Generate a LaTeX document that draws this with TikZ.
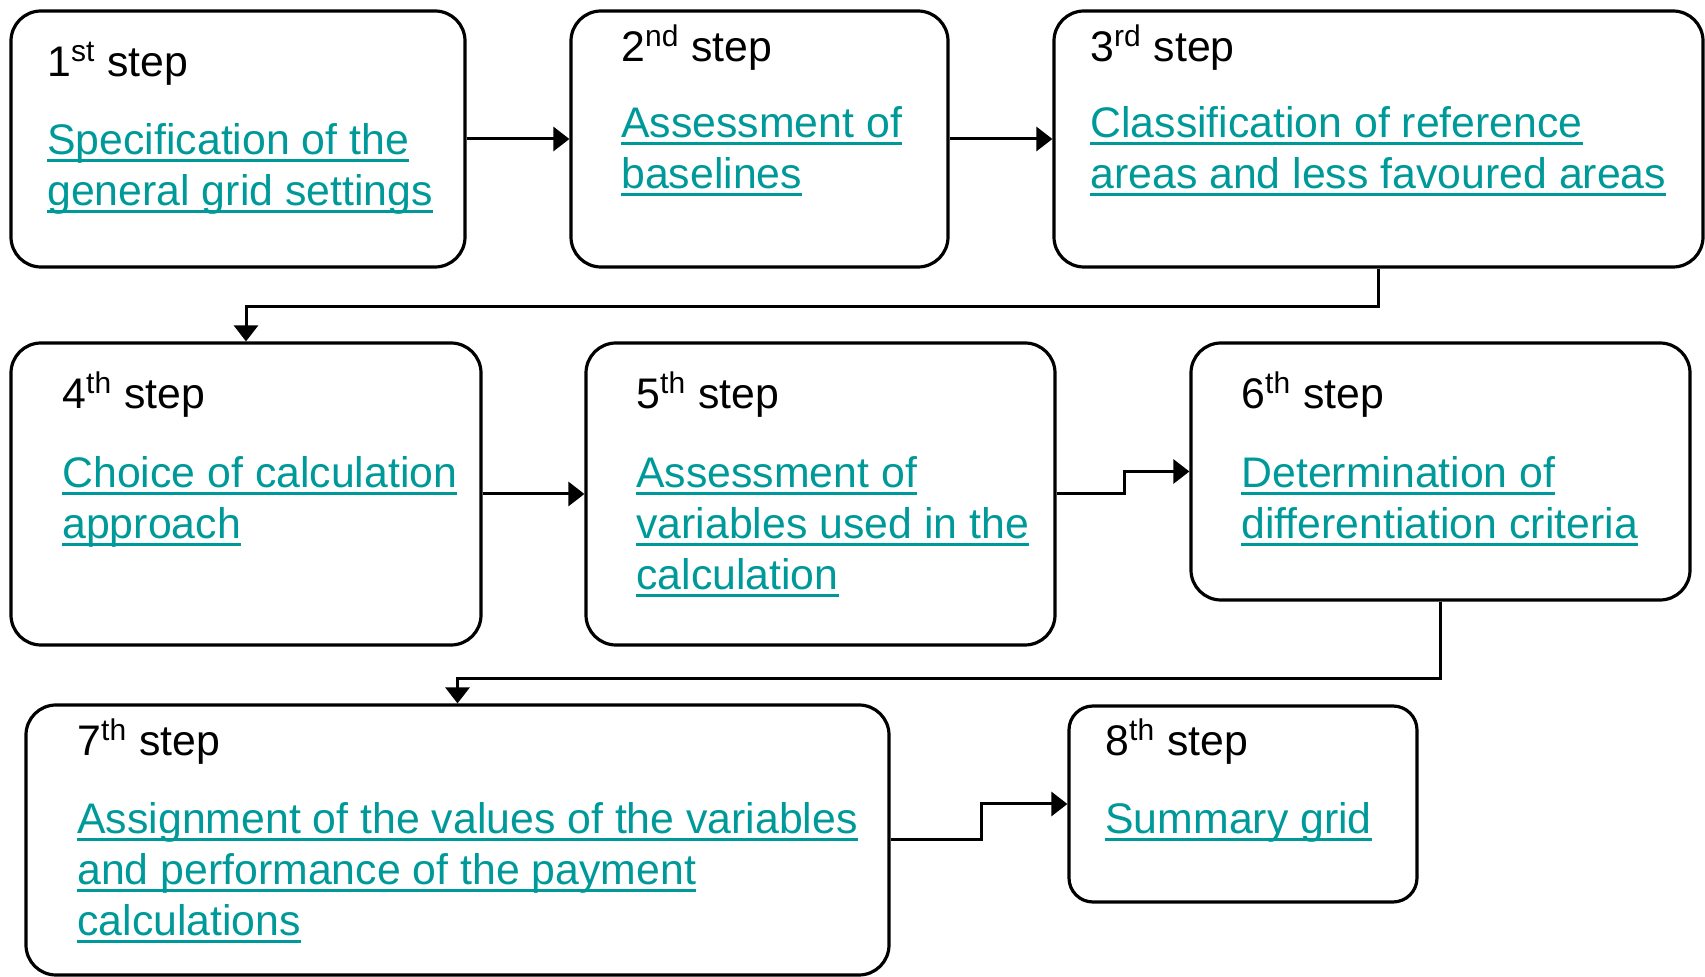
\documentclass[tikz,border=0pt]{standalone}
\usepackage{fontspec}
\setmainfont{Liberation Sans}
\usepackage{xcolor}
\usetikzlibrary{arrows.meta,positioning,calc}
\definecolor{linkteal}{RGB}{0,153,153}
\newcommand{\ulink}[1]{\leavevmode\setbox0\hbox{#1}\rlap{\rule[-3.6pt]{\wd0}{1.3pt}}\box0}

\begin{document}
\begin{tikzpicture}[x=0.5pt, y=-0.5pt,
    stepbox/.style={draw, line width=1.6pt, rounded corners=15pt, inner sep=0pt},
    ttl/.style={anchor=base west, inner sep=0pt, font=\fontsize{21.4}{25.5}\selectfont},
    lnk/.style={anchor=north west, inner sep=0pt, align=left, text=linkteal, font=\fontsize{21.4}{25.5}\selectfont},
    arr/.style={line width=1.5pt, -{Triangle[length=8pt,width=12pt]}}]

    \useasboundingbox (0,0) rectangle (1705,977);

    % First row
    \node[stepbox, minimum width=227pt, minimum height=128pt] (s1) at (238,139) {};
    \node[ttl] (t1) at (47,77) {1\textsuperscript{st} step};
    \node[lnk] (b1) at (47,120) {\rule{0pt}{17pt}\ulink{Specification of the}\\\ulink{general grid settings}};

    \node[stepbox, minimum width=188.5pt, minimum height=128pt] (s2) at (759.5,139) {};
    \node[ttl] (t2) at (621,62) {2\textsuperscript{nd} step};
    \node[lnk] (b2) at (621,103) {\rule{0pt}{17pt}\ulink{Assessment of}\\\ulink{baselines}};

    \node[stepbox, minimum width=324.5pt, minimum height=128pt] (s3) at (1378.5,139) {};
    \node[ttl] (t3) at (1090,62) {3\textsuperscript{rd} step};
    \node[lnk] (b3) at (1090,103) {\rule{0pt}{17pt}\ulink{Classification of reference}\\\ulink{areas and less favoured areas}};

    % Second row
    \node[stepbox, minimum width=235pt, minimum height=151pt] (s4) at (246,494) {};
    \node[ttl] (t4) at (62,409) {4\textsuperscript{th} step};
    \node[lnk] (b4) at (62,453) {\rule{0pt}{17pt}\ulink{Choice of calculation}\\\ulink{approach}};

    \node[stepbox, minimum width=234.5pt, minimum height=151pt] (s5) at (820.5,494) {};
    \node[ttl] (t5) at (636,409) {5\textsuperscript{th} step};
    \node[lnk] (b5) at (636,453) {\rule{0pt}{17pt}\ulink{Assessment of}\\\ulink{variables used in the}\\\ulink{calculation}};

    \node[stepbox, minimum width=249.5pt, minimum height=128.5pt] (s6) at (1440.5,471.5) {};
    \node[ttl] (t6) at (1241,409) {6\textsuperscript{th} step};
    \node[lnk] (b6) at (1241,453) {\rule{0pt}{17pt}\ulink{Determination of}\\\ulink{differentiation criteria}};

    % Third row
    \node[stepbox, minimum width=431.5pt, minimum height=135pt] (s7) at (457.5,840) {};
    \node[ttl] (t7) at (77,756) {7\textsuperscript{th} step};
    \node[lnk] (b7) at (77,799) {\rule{0pt}{17pt}\ulink{Assignment of the values of the variables}\\\ulink{and performance of the payment}\\\ulink{calculations}};

    \node[stepbox, rounded corners=12pt, minimum width=174pt, minimum height=98pt] (s8) at (1243,804) {};
    \node[ttl] (t8) at (1105,756) {8\textsuperscript{th} step};
    \node[lnk] (b8) at (1105,799) {\rule{0pt}{17pt}\ulink{Summary grid}};

    % Connectors
    \draw[arr] (s1.east) -- (s2.west);
    \draw[arr] (s2.east) -- (s3.west);
    \draw[arr] (s3.south) -- ++(0,38) -| (s4.north);
    \draw[arr] (s4.east) -- (s5.west);
    \draw[arr] (s5.east) -- ++(68,0) |- (s6.west);
    \draw[arr] (s6.south) -- ++(0,77) -| (s7.north);
    \draw[arr] (s7.east) -- ++(91,0) |- (s8.west);
\end{tikzpicture}
\end{document}
